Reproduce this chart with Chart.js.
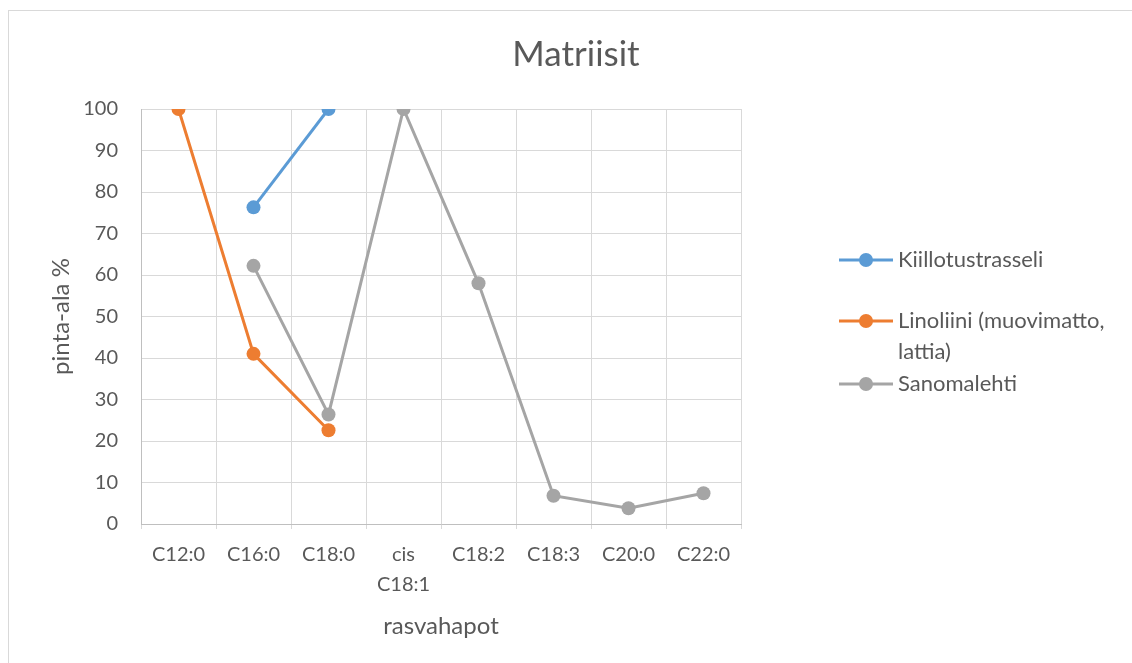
<!DOCTYPE html>
<html>
<head>
<meta charset="utf-8">
<script src="https://cdn.jsdelivr.net/npm/chart.js@4.4.1/dist/chart.umd.min.js"></script>
<style>
  html, body { margin: 0; padding: 0; background: #fff; overflow: hidden; width: 1132px; height: 663px; }
  #frame { position: absolute; left: 8px; top: 10px; width: 1200px; height: 700px; border: 1px solid #d9d9d9; box-sizing: border-box; }
  canvas { position: absolute; left: 0; top: 0; }
</style>
</head>
<body>
<div id="frame"></div>
<canvas id="chart" width="1132" height="663"></canvas>
<script>
// Fatty acids on the x axis
const categories = ['C12:0', 'C16:0', 'C18:0', ['cis', 'C18:1'], 'C18:2', 'C18:3', 'C20:0', 'C22:0'];

// Peak area (%) per sample
const kiillotustrasseli = [null, 76.3, 100, null, null, null, null, null];
const linoliini = [100, 41, 22.6, null, null, null, null, null];
const sanomalehti = [null, 62.2, 26.4, 100, 58, 6.8, 3.8, 7.4];

const seriesNames = ['Kiillotustrasseli', 'Linoliini (muovimatto, lattia)', 'Sanomalehti'];
const seriesColors = ['#5B9BD5', '#ED7D31', '#A5A5A5'];

const chartTitle = 'Matriisit';
const xTitle = 'rasvahapot';
const yTitle = 'pinta-ala %';

const FONT = 'Lato, "Open Sans", sans-serif';
const TEXT = '#595959';

function lineSet(label, data, color) {
  return {
    label, data,
    borderColor: color, backgroundColor: color,
    pointBackgroundColor: color, pointBorderColor: color,
    borderWidth: 3, pointRadius: 7, pointBorderWidth: 0, pointHoverRadius: 7,
    tension: 0, spanGaps: false
  };
}

// Chart title and a legend to the right of the plot
const decorations = {
  id: 'decorations',
  afterDraw(chart) {
    const { ctx, chartArea } = chart;
    ctx.save();
    ctx.fillStyle = TEXT;
    ctx.textAlign = 'center';
    ctx.textBaseline = 'middle';
    ctx.font = '35px ' + FONT;
    ctx.fillText(chartTitle, chart.width / 2 + 10, 55);

    const x0 = chartArea.right + 98;
    const x1 = x0 + 54;
    const tx = x1 + 5;
    const rows = [260, 321, 384];
    const lineH = 31;
    ctx.font = '22px ' + FONT;
    ctx.textAlign = 'left';
    const maxW = chart.width - tx - 6;
    chart.data.datasets.forEach((ds, i) => {
      const y = rows[i];
      ctx.strokeStyle = ds.borderColor;
      ctx.lineWidth = 3;
      ctx.beginPath(); ctx.moveTo(x0, y); ctx.lineTo(x1, y); ctx.stroke();
      ctx.fillStyle = ds.backgroundColor;
      ctx.beginPath(); ctx.arc((x0 + x1) / 2, y, 7, 0, Math.PI * 2); ctx.fill();
      // wrap the label into lines that fit
      const words = ds.label.split(' ');
      const lines = [];
      let cur = '';
      words.forEach(w => {
        const t = cur ? cur + ' ' + w : w;
        if (cur && ctx.measureText(t).width > maxW) { lines.push(cur); cur = w; }
        else cur = t;
      });
      if (cur) lines.push(cur);
      ctx.fillStyle = TEXT;
      lines.forEach((l, k) => ctx.fillText(l, tx, y + k * lineH));
    });
    ctx.restore();
  }
};

new Chart(document.getElementById('chart'), {
  type: 'line',
  data: {
    labels: categories,
    datasets: [
      lineSet(seriesNames[0], kiillotustrasseli, seriesColors[0]),
      lineSet(seriesNames[1], linoliini, seriesColors[1]),
      lineSet(seriesNames[2], sanomalehti, seriesColors[2])
    ]
  },
  options: {
    responsive: false,
    animation: false,
    devicePixelRatio: 1,
    layout: { padding: { left: 0, right: 391, top: 109, bottom: 0 } },
    plugins: {
      legend: { display: false },
      title: { display: false },
      tooltip: { enabled: false }
    },
    scales: {
      x: {
        offset: true,
        grid: { offset: true, color: '#d9d9d9', lineWidth: 1, tickLength: 5, tickColor: '#d9d9d9' },
        border: { color: '#bfbfbf', width: 1 },
        ticks: { color: TEXT, font: { family: FONT, size: 20, lineHeight: 1.5 }, padding: 11, maxRotation: 0, autoSkip: false },
        title: { display: true, text: xTitle, color: TEXT, font: { family: FONT, size: 24 }, padding: { top: 0, bottom: 22 } },
        afterFit(scale) { scale.height = 139; }
      },
      y: {
        min: 0, max: 100,
        grid: { color: '#d9d9d9', lineWidth: 1, drawTicks: false },
        border: { color: '#bfbfbf', width: 1 },
        ticks: { stepSize: 10, color: TEXT, font: { family: FONT, size: 20 }, padding: 23 },
        title: { display: true, text: yTitle, color: TEXT, font: { family: FONT, size: 24 }, padding: { top: 47, bottom: 0 } },
        afterFit(scale) { scale.width = 141; }
      }
    }
  },
  plugins: [decorations]
});
</script>
</body>
</html>
